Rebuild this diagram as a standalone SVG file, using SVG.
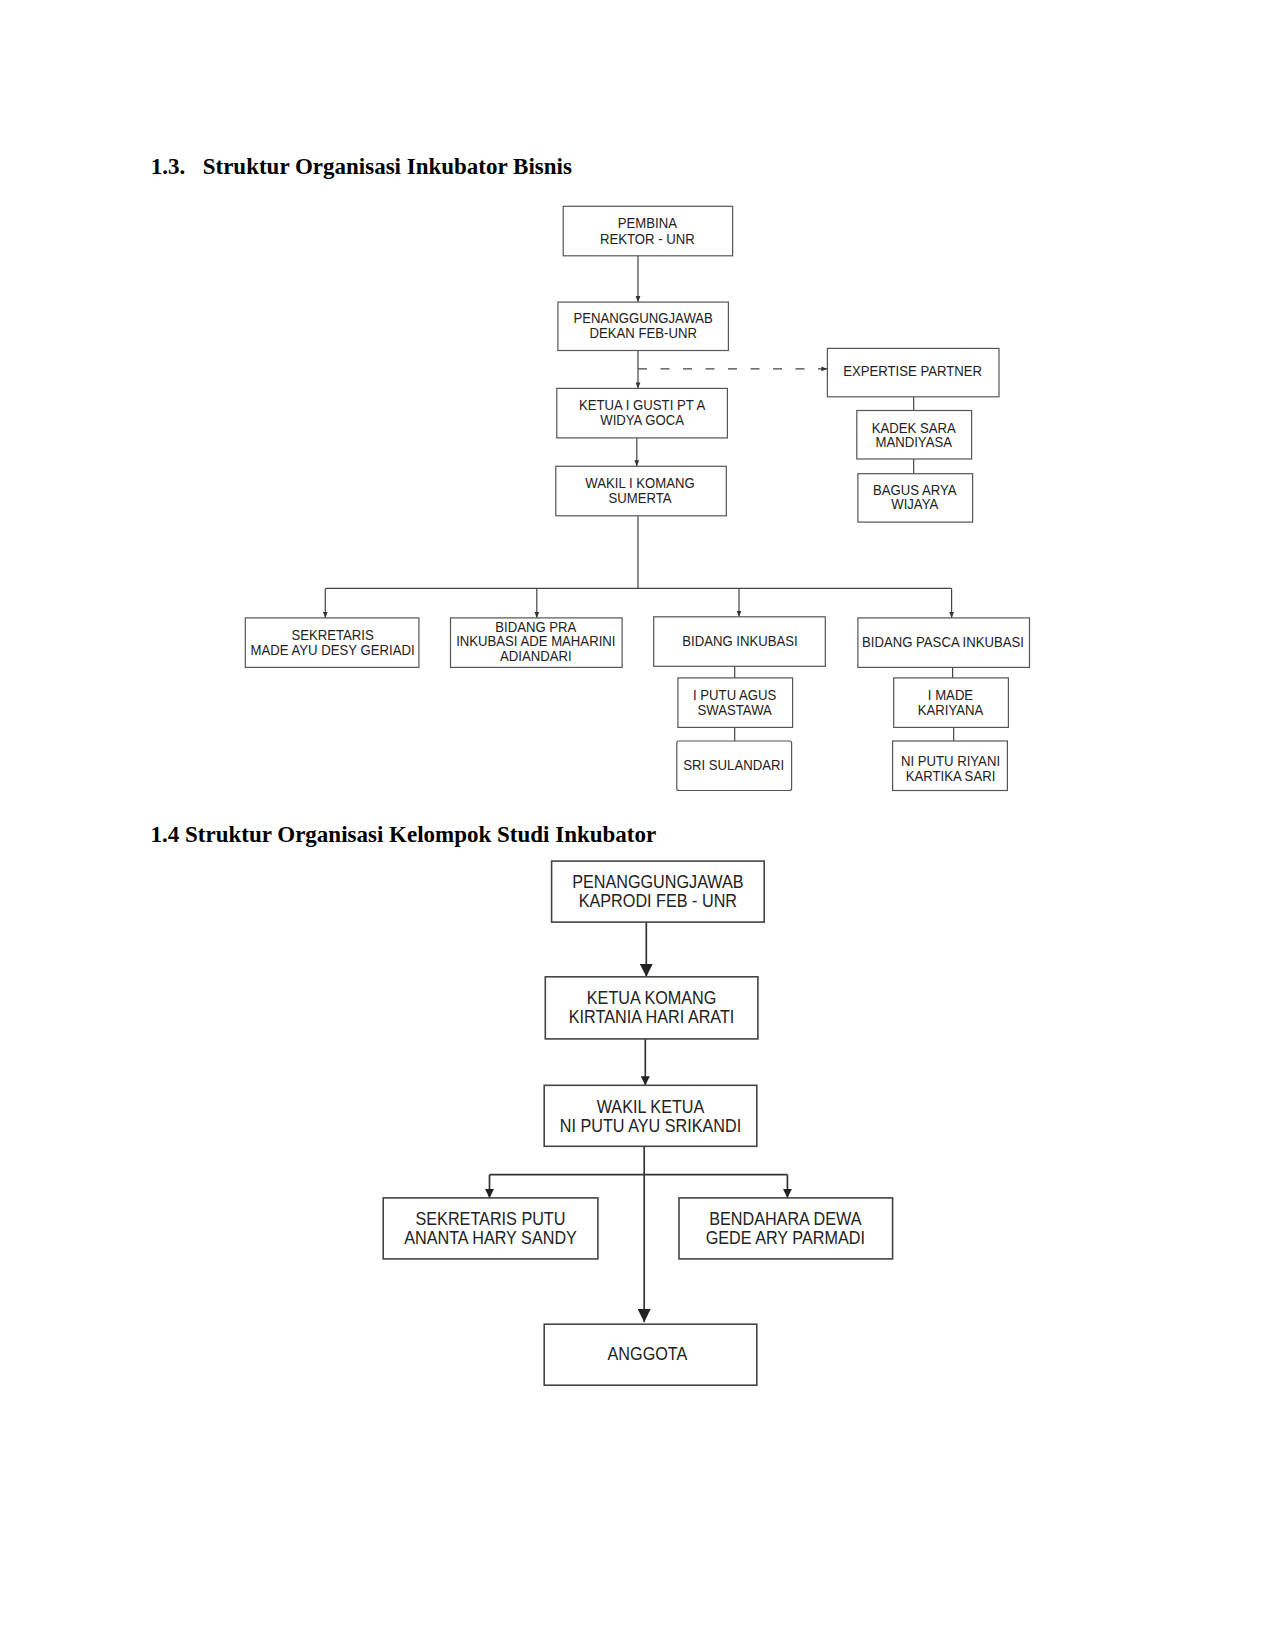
<svg xmlns="http://www.w3.org/2000/svg" width="1275" height="1650" viewBox="0 0 1275 1650">
<style>
.bg{fill:#fff}
.t{font-family:"Liberation Serif","Times New Roman",serif;font-weight:bold;font-size:23px;fill:#000}
.b1{fill:#fff;stroke:#555;stroke-width:1.2}
.b2{fill:#fff;stroke:#444;stroke-width:1.6}
.l1{fill:none;stroke:#444;stroke-width:1.2}
.l2{fill:none;stroke:#333;stroke-width:1.7}
.s1,.s2{font-family:"Liberation Sans",Arial,sans-serif;fill:#222;text-anchor:middle;transform-box:fill-box;transform-origin:center}
.s1{font-size:14px;transform:scaleX(0.94)}
.s2{font-size:18.2px;transform:scaleX(0.89)}
</style>
<defs>
<marker id="a1" markerUnits="userSpaceOnUse" markerWidth="6" markerHeight="6" refX="6" refY="3" orient="auto"><path d="M0,0.6 L6,3 L0,5.4 z" fill="#333"/></marker>
<marker id="a2" markerUnits="userSpaceOnUse" markerWidth="13" markerHeight="13" refX="13" refY="6.5" orient="auto"><path d="M0,0 L13,6.5 L0,13 z" fill="#222"/></marker>
<marker id="a3" markerUnits="userSpaceOnUse" markerWidth="9" markerHeight="9" refX="9" refY="4.5" orient="auto"><path d="M0,0 L9,4.5 L0,9 z" fill="#222"/></marker>
</defs>
<rect class="bg" x="0" y="0" width="1275" height="1650"/>

<text class="t" x="150.7" y="174">1.3.<tspan x="202.7">Struktur Organisasi Inkubator Bisnis</tspan></text>
<text class="t" x="150.5" y="842">1.4 Struktur Organisasi Kelompok Studi Inkubator</text>

<g id="connectors">
<line class="l1" x1="638" y1="255.8" x2="638" y2="302.1" marker-end="url(#a1)"/>
<line class="l1" x1="638" y1="350.5" x2="638" y2="388.4" marker-end="url(#a1)"/>
<line class="l1" x1="638" y1="368.8" x2="827.4" y2="368.8" stroke-dasharray="9,13.5" marker-end="url(#a1)"/>
<line class="l1" x1="913.7" y1="396.8" x2="913.7" y2="410.5"/>
<line class="l1" x1="913.7" y1="459" x2="913.7" y2="473.7"/>
<line class="l1" x1="636.8" y1="437.9" x2="636.8" y2="466.3" stroke="#aaa" marker-end="url(#a1)"/>
<line class="l1" x1="638" y1="515.8" x2="638" y2="588.4"/>
<line class="l1" x1="325.3" y1="588.4" x2="951.6" y2="588.4"/>
<line class="l1" x1="325.3" y1="588.4" x2="325.3" y2="617.9" marker-end="url(#a1)"/>
<line class="l1" x1="536.8" y1="588.4" x2="536.8" y2="617.9" marker-end="url(#a1)"/>
<line class="l1" x1="739" y1="588.4" x2="739" y2="616.8" marker-end="url(#a1)"/>
<line class="l1" x1="951.6" y1="588.4" x2="951.6" y2="617.9" marker-end="url(#a1)"/>
<line class="l1" x1="734.7" y1="666.3" x2="734.7" y2="677.9"/>
<line class="l1" x1="734.7" y1="727.4" x2="734.7" y2="741"/>
<line class="l1" x1="952.6" y1="667.4" x2="952.6" y2="677.9"/>
<line class="l1" x1="953.7" y1="727.4" x2="953.7" y2="741"/>

<line class="l2" x1="646.3" y1="922.1" x2="646.3" y2="976.8" marker-end="url(#a2)"/>
<line class="l2" x1="645.3" y1="1038.9" x2="645.3" y2="1085.3" marker-end="url(#a3)"/>
<line class="l2" x1="644.2" y1="1146.3" x2="644.2" y2="1322.1" marker-end="url(#a2)"/>
<line class="l2" x1="489.5" y1="1174.7" x2="787.4" y2="1174.7"/>
<line class="l2" x1="489.5" y1="1174.7" x2="489.5" y2="1197.9" marker-end="url(#a3)"/>
<line class="l2" x1="787.4" y1="1174.7" x2="787.4" y2="1197.9" marker-end="url(#a3)"/>
</g>

<g id="pembina"><rect class="b1" x="563.2" y="206.3" width="169.4" height="49.5"/><text class="s1" x="647.4" y="228.4">PEMBINA</text><text class="s1" x="647.4" y="244.2">REKTOR - UNR</text></g>
<g id="penanggungjawab1"><rect class="b1" x="557.9" y="302.1" width="170.5" height="48.4"/><text class="s1" x="643.2" y="323.2">PENANGGUNGJAWAB</text><text class="s1" x="643.2" y="337.9">DEKAN FEB-UNR</text></g>
<g id="expertise"><rect class="b1" x="827.4" y="348.4" width="171.6" height="48.4"/><text class="s1" x="912.6" y="375.8">EXPERTISE PARTNER</text></g>
<g id="kadek"><rect class="b1" x="856.8" y="410.5" width="114.8" height="48.5"/><text class="s1" x="913.7" y="432.6">KADEK SARA</text><text class="s1" x="913.7" y="447.4">MANDIYASA</text></g>
<g id="bagus"><rect class="b1" x="857.9" y="473.7" width="114.7" height="48.4"/><text class="s1" x="914.7" y="494.7">BAGUS ARYA</text><text class="s1" x="914.7" y="509.5">WIJAYA</text></g>
<g id="ketua1"><rect class="b1" x="556.8" y="388.4" width="170.6" height="49.5"/><text class="s1" x="642.1" y="410.5">KETUA I GUSTI PT A</text><text class="s1" x="642.1" y="425.3">WIDYA GOCA</text></g>
<g id="wakil1"><rect class="b1" x="555.8" y="466.3" width="170.5" height="49.5"/><text class="s1" x="640" y="488.4">WAKIL I KOMANG</text><text class="s1" x="640" y="503.2">SUMERTA</text></g>
<g id="sekretaris1"><rect class="b1" x="245.3" y="617.9" width="173.6" height="49.5"/><text class="s1" x="332.6" y="640">SEKRETARIS</text><text class="s1" x="332.6" y="654.7">MADE AYU DESY GERIADI</text></g>
<g id="bidangpra"><rect class="b1" x="450.5" y="617.9" width="171.6" height="49.5"/><text class="s1" x="535.8" y="631.6">BIDANG PRA</text><text class="s1" x="535.8" y="646.3">INKUBASI ADE MAHARINI</text><text class="s1" x="535.8" y="661">ADIANDARI</text></g>
<g id="bidanginkubasi"><rect class="b1" x="653.7" y="616.8" width="171.6" height="49.5"/><text class="s1" x="740" y="646.3">BIDANG INKUBASI</text></g>
<g id="bidangpasca"><rect class="b1" x="857.9" y="617.9" width="171.6" height="49.5"/><text class="s1" x="943" y="647">BIDANG PASCA INKUBASI</text></g>
<g id="iputu"><rect class="b1" x="677.9" y="677.9" width="114.7" height="49.5"/><text class="s1" x="734.7" y="700">I PUTU AGUS</text><text class="s1" x="734.7" y="714.7">SWASTAWA</text></g>
<g id="sri"><rect class="b1" x="676.8" y="741" width="114.8" height="49.5" rx="2"/><text class="s1" x="733.7" y="770.5">SRI SULANDARI</text></g>
<g id="imade"><rect class="b1" x="893.7" y="677.9" width="114.7" height="49.5"/><text class="s1" x="950.5" y="700">I MADE</text><text class="s1" x="950.5" y="714.7">KARIYANA</text></g>
<g id="niputu"><rect class="b1" x="892.6" y="741" width="114.8" height="49.5"/><text class="s1" x="950.5" y="766.3">NI PUTU RIYANI</text><text class="s1" x="950.5" y="781">KARTIKA SARI</text></g>

<g id="penanggungjawab2"><rect class="b2" x="551.6" y="861.1" width="212.6" height="61"/><text class="s2" x="657.9" y="888.4">PENANGGUNGJAWAB</text><text class="s2" x="657.9" y="907.4">KAPRODI FEB - UNR</text></g>
<g id="ketua2"><rect class="b2" x="545.3" y="976.8" width="212.6" height="62.1"/><text class="s2" x="651.6" y="1004.2">KETUA KOMANG</text><text class="s2" x="651.6" y="1023.2">KIRTANIA HARI ARATI</text></g>
<g id="wakil2"><rect class="b2" x="544.2" y="1085.3" width="212.6" height="61"/><text class="s2" x="650.5" y="1112.6">WAKIL KETUA</text><text class="s2" x="650.5" y="1131.6">NI PUTU AYU SRIKANDI</text></g>
<g id="sekretaris2"><rect class="b2" x="383.2" y="1197.9" width="214.7" height="61"/><text class="s2" x="490.5" y="1225.3">SEKRETARIS PUTU</text><text class="s2" x="490.5" y="1244.2">ANANTA HARY SANDY</text></g>
<g id="bendahara"><rect class="b2" x="679" y="1197.9" width="213.6" height="61"/><text class="s2" x="785.3" y="1225.3">BENDAHARA DEWA</text><text class="s2" x="785.3" y="1244.2">GEDE ARY PARMADI</text></g>
<g id="anggota"><rect class="b2" x="544.2" y="1324.2" width="212.6" height="61"/><text class="s2" x="647.4" y="1360.5">ANGGOTA</text></g>
</svg>
